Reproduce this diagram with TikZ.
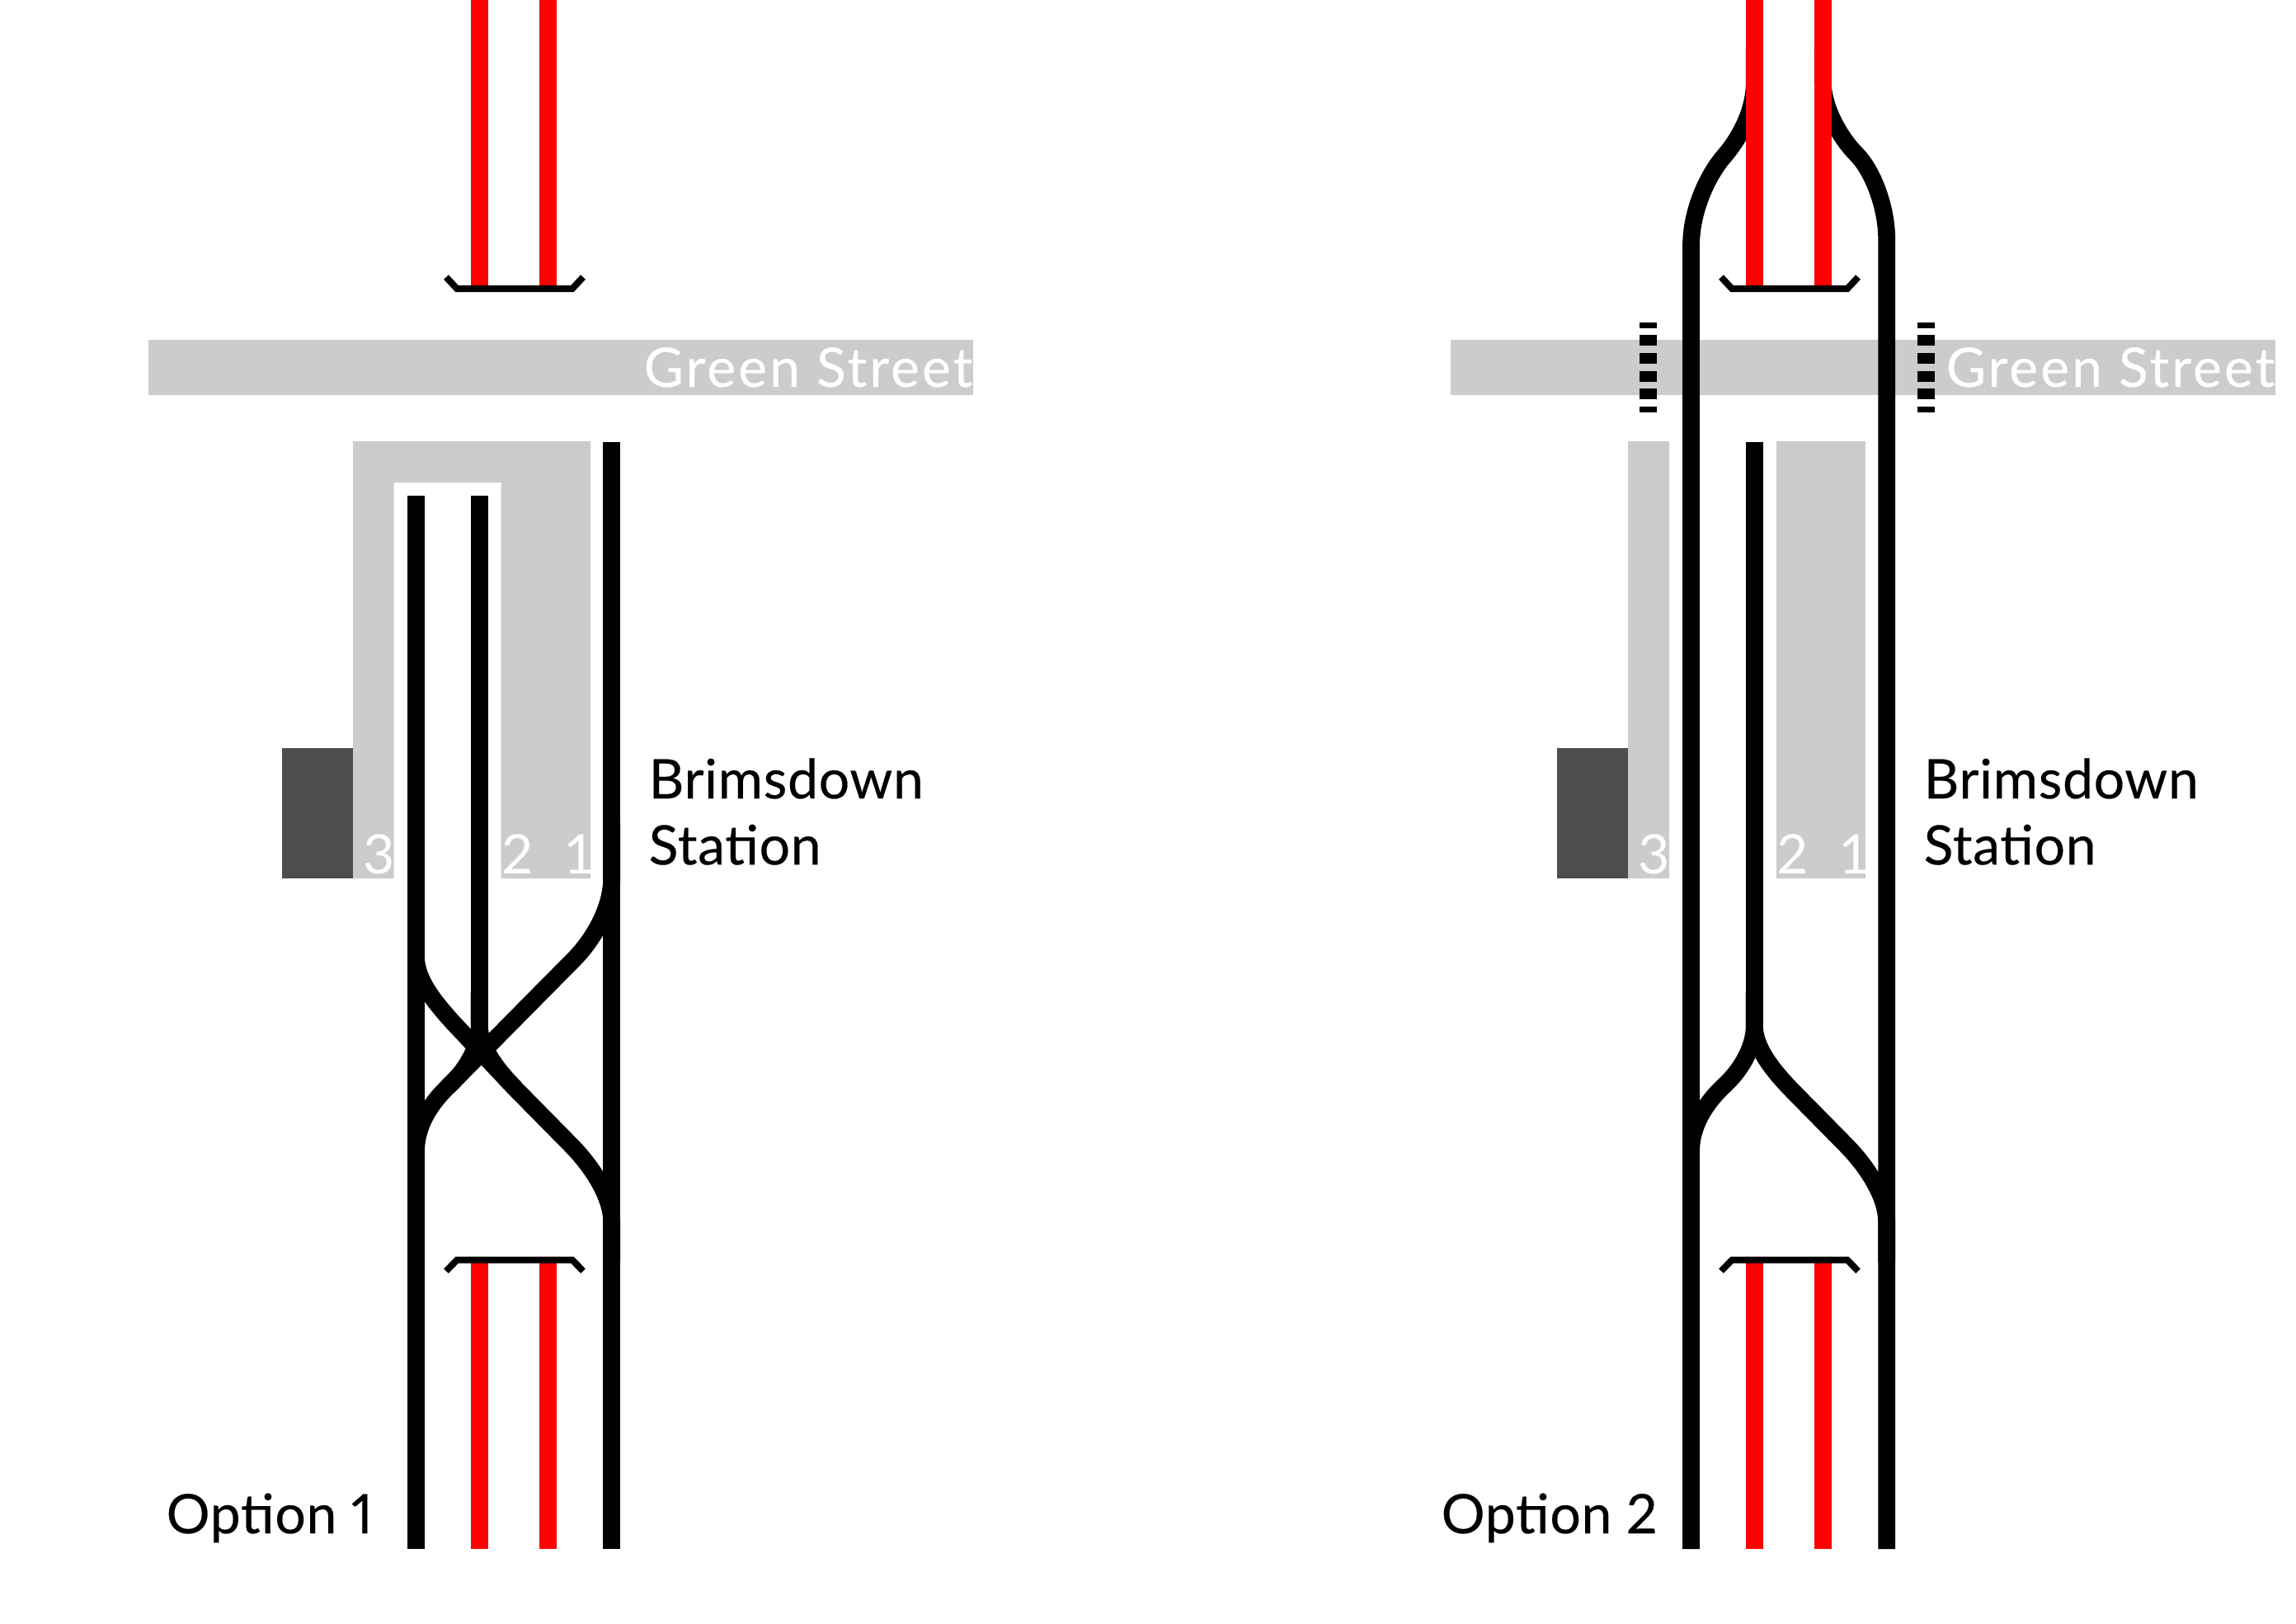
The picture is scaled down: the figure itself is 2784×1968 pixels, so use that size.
\documentclass[tikz,border=0pt]{standalone}
\usepackage{fontspec}
\setmainfont{Lato}
\newfontfamily\labelface[FakeBold=0.3, LetterSpace=1, Numbers=Proportional]{Lato}
\newfontfamily\streetface[FakeBold=0.15, LetterSpace=4.6]{Lato}
\newcommand{\diagramfont}{\labelface\fontsize{18.8}{22.8}\selectfont}
\newcommand{\streetfont}{\streetface\fontsize{18.8}{22.8}\selectfont}
\newcommand{\digitfont}{\fontsize{18.8}{22.8}\selectfont}
\definecolor{platformgrey}{HTML}{CCCCCC}
\definecolor{buildinggrey}{HTML}{4D4D4D}
\tikzset{
  trackline/.style={line width=2.08mm, black},
  redline/.style={line width=2.08mm, red},
  bufferstop/.style={line width=0.8mm, black, line join=miter},
  crossing/.style={line width=2.08mm, black, dash pattern=on 1.3mm off 0.87mm, dash phase=0.64mm},
  greyfill/.style={fill=platformgrey, draw=none},
  buildingfill/.style={fill=buildinggrey, draw=none},
  whitetext/.style={text=white, inner sep=0pt, font=\digitfont},
  streettext/.style={text=white, inner sep=0pt, font=\streetfont},
  blacktext/.style={text=black, inner sep=0pt, font=\diagramfont}
}
\begin{document}
\begin{tikzpicture}[x=0.01cm, y=-0.01cm]

    \useasboundingbox (0, 0) rectangle (2784, 1968);

    % buildings and the road
    \foreach \dx/\rx in {0/0, 1546/1579} {
      \fill [buildingfill] (342 + \dx, 907) rectangle (428 + \dx, 1065);
      \fill [greyfill] (180 + \rx, 412) rectangle (1180 + \rx, 479);
    }

    % option 1 platforms
    \fill [greyfill] (428, 535) -- (716, 535) -- (716, 1065) -- (607.5, 1065) -- (607.5, 585)
      -- (477.5, 585) -- (477.5, 1065) -- (428, 1065) -- cycle;

    % option 2 platforms
    \fill [greyfill] (1974, 535) rectangle (2023.5, 1065);
    \fill [greyfill] (2153.5, 535) rectangle (2262, 1065);

    % option 1 tracks
    \draw [trackline] (504.5, 601) -- (504.5, 1878);
    \draw [trackline] (581.3, 601) -- (581.3, 1243);
    \draw [trackline] (741.7, 536) -- (741.7, 1878);
    \draw [trackline] (504.5, 1115) -- (504.5, 1160) .. controls (504.5, 1188) and (527, 1215) .. (549.5, 1240) -- (625, 1320);
    \draw [trackline] (741.7, 998) -- (741.7, 1065) .. controls (741.7, 1100) and (720, 1140) .. (693, 1166) -- (542.7, 1318);

    % option 2 tracks
    \begin{scope}[shift={(1546, 0)}]
      \draw [trackline] (581.3, 58) -- (581.3, 100) .. controls (581.3, 135) and (563, 168) .. (544, 190)
        .. controls (525, 212) and (504.5, 255) .. (504.5, 298) -- (504.5, 1878);
      \draw [trackline] (664.3, 58) -- (664.3, 100) .. controls (664.3, 130) and (685, 167) .. (705, 187)
        .. controls (724, 206) and (741.7, 250) .. (741.7, 290) -- (741.7, 1878);
      \draw [trackline] (581.3, 536) -- (581.3, 1243);
      \draw [crossing] (452.5, 391) -- (452.5, 500);
      \draw [crossing] (789.7, 391) -- (789.7, 500);
    \end{scope}

    % junction, red lines and buffers are the same in both
    \foreach \dx/\n in {0/1, 1546/2} {
      \begin{scope}[shift={(\dx, 0)}]
        \draw [trackline] (581.3, 1203) -- (581.3, 1243) .. controls (581.3, 1270) and (565, 1298) .. (542.7, 1318)
          .. controls (522, 1338) and (504.5, 1365) .. (504.5, 1396) -- (504.5, 1440);
        \draw [trackline] (581.3, 1203) -- (581.3, 1243) .. controls (581.3, 1270) and (603, 1297) .. (625, 1320)
          -- (691, 1387) .. controls (717, 1413) and (741.7, 1450) .. (741.7, 1482) -- (741.7, 1530);
        \draw [redline] (581.3, 0) -- (581.3, 350);
        \draw [redline] (664.3, 0) -- (664.3, 350);
        \draw [redline] (581.3, 1528) -- (581.3, 1878);
        \draw [redline] (664.3, 1528) -- (664.3, 1878);
        \draw [bufferstop] (541, 336) -- (554, 350) -- (694, 350) -- (707, 336);
        \draw [bufferstop] (541, 1541) -- (554, 1527.7) -- (694, 1527.7) -- (707, 1541);
        \node [whitetext, anchor=base] (three\n) at (460, 1059) {3};
        \node [whitetext, anchor=base] (two\n) at (628, 1059) {2};
        \node [whitetext, anchor=base] (one\n) at (703, 1059) {1};
        \node [blacktext, anchor=west, align=left] (station\n) at (786, 984) {Brimsdown\\Station};
      \end{scope}
    }

    % street names and captions
    \node [streettext, anchor=base east] (street1) at (1180, 469) {Green Street};
    \node [streettext, anchor=base east] (street2) at (2759, 469) {Green Street};
    \node [blacktext, anchor=base west] (option1) at (201, 1859) {Option 1};
    \node [blacktext, anchor=base west] (option2) at (1747, 1859) {Option 2};

\end{tikzpicture}
\end{document}
